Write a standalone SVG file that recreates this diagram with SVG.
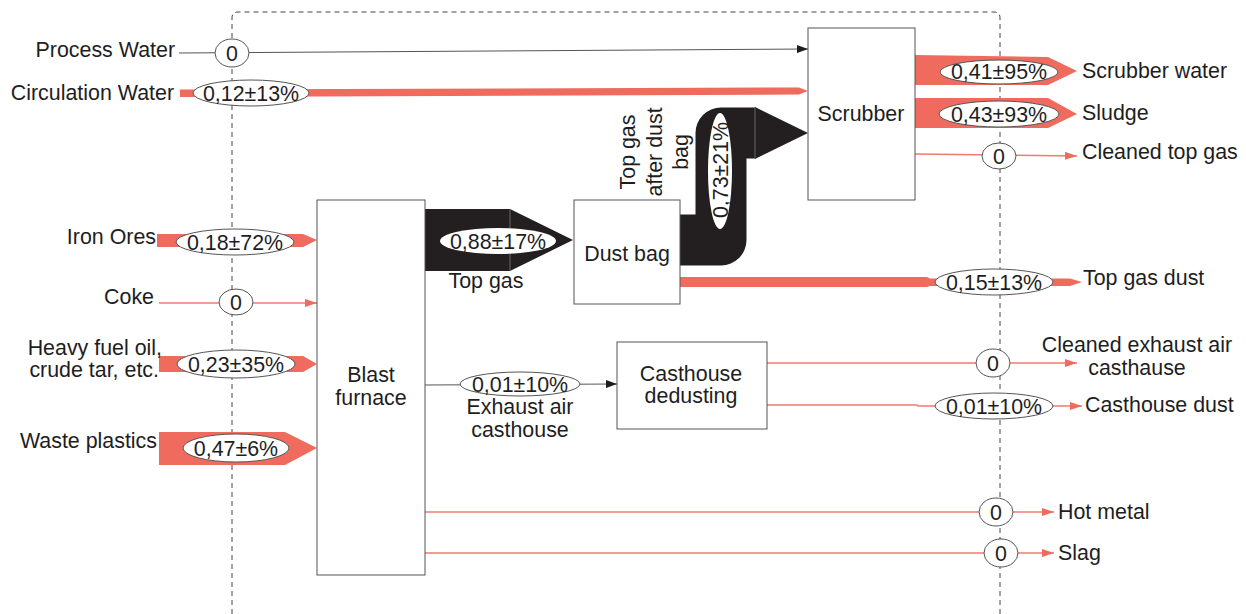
<svg xmlns="http://www.w3.org/2000/svg" width="1246" height="614" viewBox="0 0 1246 614">
<style>
text{font-family:"Liberation Sans",Arial,sans-serif;font-size:21.4px;fill:#1e1e1e}
.m{text-anchor:middle}
.e{text-anchor:end}
.box{fill:#fff;stroke:#555;stroke-width:1}
.ell{fill:#fff;stroke:#555;stroke-width:1}
.band{fill:#ef6b5e}
.thin{stroke:#ef7b70;stroke-width:1.3;fill:none}
.gl{stroke:#555;stroke-width:1;fill:none}
.blk{fill:#231f20}
</style>
<defs>
<marker id="ab" markerUnits="userSpaceOnUse" markerWidth="11" markerHeight="8" refX="11" refY="4" orient="auto"><path d="M0,0 L11,4 L0,8 z" fill="#1e1e1e"/></marker>
<marker id="ar" markerUnits="userSpaceOnUse" markerWidth="12" markerHeight="8" refX="12" refY="4" orient="auto"><path d="M0,0 L12,4 L0,8 z" fill="#ef6b5e"/></marker>
</defs>
<rect width="1246" height="614" fill="#fff"/>
<path d="M232,614 V18 Q232,12 238,12 H994 Q1000,12 1000,18 V614" fill="none" stroke="#444" stroke-width="1" stroke-dasharray="5,4"/>

<g id="connectors">
  <line class="gl" x1="179" y1="53" x2="808" y2="49" stroke="#444" marker-end="url(#ab)"/>
  <polygon class="band" points="180,89.5 799,87.5 808,91 799,94.5 180,97"/>
  <polygon class="band" points="157,234 303,234 317,240 303,247 157,247"/>
  <line class="thin" x1="159" y1="303" x2="317" y2="303" marker-end="url(#ar)"/>
  <polygon class="band" points="159,356 303,356 317,364 303,372 159,372"/>
  <polygon class="band" points="159,432 285,432 317,448 285,465 159,465"/>
  <polygon class="blk" points="425,209 510,209 573,240 510,271 425,271"/>
  <line x1="510" y1="209" x2="510" y2="271" stroke="#666" stroke-width="1"/>
  <path d="M680,240 H721 V133 H756" fill="none" stroke="#231f20" stroke-width="51" stroke-linejoin="round"/>
  <polygon class="blk" points="755,107 808,133 755,159"/>
  <line x1="755" y1="107" x2="755" y2="159" stroke="#666" stroke-width="1"/>
  <polygon class="band" points="680,277 927,277 930,278.5 1070,278.5 1082,282 1070,286 930,286 927,287 680,287"/>
  <line class="gl" x1="425" y1="385" x2="617" y2="384" stroke="#444" marker-end="url(#ab)"/>
  <polygon class="band" points="915,55 1048,57 1077,71 1048,85 915,85"/>
  <polygon class="band" points="915,98 1048,98 1077,114 1048,128 915,128"/>
  <line class="thin" x1="915" y1="154" x2="1077" y2="156" marker-end="url(#ar)"/>
  <line class="thin" x1="767" y1="363" x2="1077" y2="363" marker-end="url(#ar)"/>
  <path class="thin" d="M767,405 H917 L918,406 H1082" marker-end="url(#ar)"/>
  <line class="thin" x1="425" y1="512" x2="1054" y2="512" marker-end="url(#ar)"/>
  <line class="thin" x1="425" y1="553" x2="1054" y2="553" marker-end="url(#ar)"/>

  <ellipse class="ell" cx="232" cy="53" rx="17" ry="14"/><text class="m" x="232" y="60.5">0</text>
  <ellipse class="ell" cx="251" cy="93" rx="58" ry="13"/><text class="m" x="251" y="100.5">0,12±13%</text>
  <ellipse class="ell" cx="235" cy="242" rx="59" ry="13"/><text class="m" x="235" y="249.5">0,18±72%</text>
  <ellipse class="ell" cx="236" cy="302" rx="17" ry="13"/><text class="m" x="236" y="309.5">0</text>
  <ellipse class="ell" cx="236" cy="364" rx="59" ry="14"/><text class="m" x="236" y="371.5">0,23±35%</text>
  <ellipse class="ell" cx="236" cy="448" rx="53" ry="14"/><text class="m" x="236" y="455.5">0,47±6%</text>
  <ellipse cx="498" cy="241" rx="58" ry="13" fill="#fff"/><text class="m" x="498" y="248.5">0,88±17%</text>
  <ellipse cx="720" cy="171" rx="12" ry="58" fill="#fff"/><text class="m" transform="translate(728,170) rotate(-90)">0,73±21%</text>
  <ellipse class="ell" cx="520" cy="384" rx="60" ry="12"/><text class="m" x="520" y="391.5">0,01±10%</text>
  <ellipse class="ell" cx="999" cy="72" rx="59" ry="12"/><text class="m" x="999" y="79">0,41±95%</text>
  <ellipse class="ell" cx="999" cy="114" rx="60" ry="13"/><text class="m" x="999" y="121.5">0,43±93%</text>
  <ellipse class="ell" cx="999" cy="156" rx="17" ry="13"/><text class="m" x="999" y="163.5">0</text>
  <ellipse class="ell" cx="994" cy="282" rx="59" ry="13"/><text class="m" x="994" y="289.5">0,15±13%</text>
  <ellipse class="ell" cx="993" cy="363" rx="17" ry="14"/><text class="m" x="993" y="370.5">0</text>
  <ellipse class="ell" cx="994" cy="406" rx="59" ry="13"/><text class="m" x="994" y="413.5">0,01±10%</text>
  <ellipse class="ell" cx="996" cy="512" rx="17" ry="14"/><text class="m" x="996" y="519.5">0</text>
  <ellipse class="ell" cx="1001" cy="553" rx="17" ry="14"/><text class="m" x="1001" y="560.5">0</text>

  <text class="m" x="486" y="288">Top gas</text>
  <text class="m" transform="translate(635,152) rotate(-90)">Top gas</text>
  <text class="m" transform="translate(662,152) rotate(-90)">after dust</text>
  <text class="m" transform="translate(688,152) rotate(-90)">bag</text>
  <text class="m" x="520" y="414">Exhaust air</text>
  <text class="m" x="520" y="437">casthouse</text>
</g>

<g id="process-water"><text class="e" x="175" y="57">Process Water</text></g>
<g id="circulation-water"><text class="e" x="174" y="100">Circulation Water</text></g>
<g id="iron-ores"><text class="e" x="156" y="244">Iron Ores</text></g>
<g id="coke"><text class="e" x="154" y="304">Coke</text></g>
<g id="heavy-fuel-oil"><text class="e" x="162" y="355">Heavy fuel oil,</text><text class="e" x="159" y="377">crude tar, etc.</text></g>
<g id="waste-plastics"><text class="e" x="157" y="448">Waste plastics</text></g>

<g id="blast-furnace"><rect class="box" x="317" y="200" width="108" height="375"/><text class="m" x="371" y="382">Blast</text><text class="m" x="371" y="405">furnace</text></g>
<g id="dust-bag"><rect class="box" x="574" y="200" width="106" height="104"/><text class="m" x="627" y="261">Dust bag</text></g>
<g id="scrubber"><rect class="box" x="808" y="28" width="107" height="172"/><text class="m" x="861" y="121">Scrubber</text></g>
<g id="casthouse-dedusting"><rect class="box" x="617" y="342" width="150" height="87"/><text class="m" x="691" y="381">Casthouse</text><text class="m" x="691" y="403">dedusting</text></g>

<g id="scrubber-water"><text x="1082" y="78">Scrubber water</text></g>
<g id="sludge"><text x="1082" y="120">Sludge</text></g>
<g id="cleaned-top-gas"><text x="1082" y="159">Cleaned top gas</text></g>
<g id="top-gas-dust"><text x="1083" y="285">Top gas dust</text></g>
<g id="cleaned-exhaust-air"><text class="m" x="1137" y="352">Cleaned exhaust air</text><text class="m" x="1137" y="375">casthause</text></g>
<g id="casthouse-dust"><text x="1085" y="412">Casthouse dust</text></g>
<g id="hot-metal"><text x="1058" y="519">Hot metal</text></g>
<g id="slag"><text x="1058" y="560">Slag</text></g>
</svg>
